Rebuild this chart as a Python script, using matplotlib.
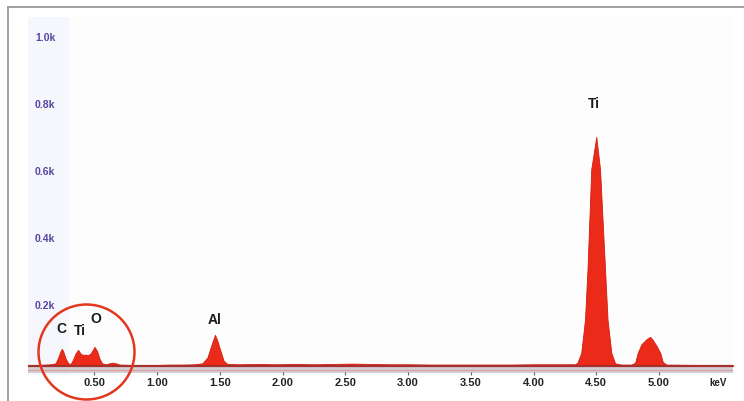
import matplotlib.pyplot as plt
from matplotlib.patches import Ellipse
from matplotlib.lines import Line2D

# EDS spectrum (keV, counts)
energy = [0.00, 0.05, 0.10, 0.15, 0.19, 0.21, 0.23, 0.24, 0.25, 0.27, 0.29,
          0.31, 0.33, 0.35, 0.37, 0.39, 0.41, 0.43, 0.45, 0.47, 0.49, 0.50,
          0.52, 0.54, 0.56, 0.59, 0.62, 0.64, 0.67, 0.70, 0.80, 0.90, 1.00,
          1.10, 1.20, 1.30, 1.36, 1.40, 1.43, 1.46, 1.48, 1.50, 1.53, 1.56,
          1.65, 1.80, 1.95, 2.10, 2.25, 2.40, 2.55, 2.70, 2.85, 3.00, 3.20,
          3.40, 3.60, 3.80, 4.00, 4.20, 4.33, 4.35, 4.38, 4.41, 4.43, 4.445,
          4.46, 4.50, 4.53, 4.55, 4.57, 4.59, 4.62, 4.65, 4.70, 4.78, 4.81,
          4.83, 4.86, 4.90, 4.93, 4.95, 4.98, 5.01, 5.03, 5.06, 5.30, 5.59]
counts = [0, 3, 4, 5, 8, 25, 45, 51, 44, 22, 8,
          6, 20, 38, 48, 36, 33, 34, 32, 38, 50, 57,
          45, 22, 8, 5, 8, 10, 8, 4, 3, 3, 3,
          4, 4, 5, 8, 25, 60, 93, 75, 50, 15, 6,
          5, 6, 5, 6, 5, 6, 7, 6, 5, 5, 4,
          4, 4, 4, 5, 5, 5, 10, 39, 138, 288, 438,
          588, 684, 588, 438, 288, 138, 39, 8, 4, 4, 10,
          39, 65, 80, 87, 78, 60, 39, 12, 4, 3, 3]

peak_labels = ['C', 'Ti', 'O', 'Al', 'Ti']
peak_x = [0.24, 0.38, 0.51, 1.46, 4.48]
peak_y = [90, 84, 118, 115, 760]

y_ticks = [200, 400, 600, 800, 1000]
y_labels = ['0.2k', '0.4k', '0.6k', '0.8k', '1.0k']
x_ticks = [0.5, 1.0, 1.5, 2.0, 2.5, 3.0, 3.5, 4.0, 4.5, 5.0]
x_labels = ['0.50', '1.00', '1.50', '2.00', '2.50', '3.00', '3.50', '4.00', '4.50', '5.00']

W, H = 744, 401
fig = plt.figure(figsize=(W / 100, H / 100), dpi=100)
fig.patch.set_facecolor('white')
plt.rcParams['font.family'] = ['Liberation Sans', 'DejaVu Sans']

# axes placed in pixels
left, right, top, bottom = 28, 733, 17, 375
ax = fig.add_axes([left / W, 1 - bottom / H, (right - left) / W, (bottom - top) / H])
ax.set_facecolor('#fdfdfd')
ax.set_xlim(-0.03, 5.59)
ax.set_ylim(-27, 1042)
for s in ax.spines.values():
    s.set_visible(False)

ax.axvspan(-0.03, 0.30, color='#f5f7fc', zorder=0, lw=0)
ax.axhspan(-21, 0, color='#cfcfd4', zorder=1, lw=0)
ax.axhline(-12, color='#e49a9a', lw=0.8, zorder=2)

ax.fill_between(energy, counts, 0, color='#ec2a1a', lw=0.6, edgecolor='#d01e12', zorder=3)
ax.axhline(0, color='#a8302c', lw=1.6, zorder=4)

for lab, x, y in zip(peak_labels, peak_x, peak_y):
    ax.text(x, y, lab, ha='center', va='bottom', fontsize=10, fontweight='bold', color='#1a1a1a')

for v, lab in zip(y_ticks, y_labels):
    ax.text(0.01, v - 6, lab, transform=ax.get_yaxis_transform(), ha='left', va='top',
            fontsize=7.5, fontweight='bold', color='#5546a0')

ax.set_yticks([])
ax.set_xticks(x_ticks)
ax.set_xticklabels(x_labels)
ax.tick_params(axis='x', direction='in', length=2, color='#666666', labelsize=8,
               labelcolor='#222222', pad=2.5)
for t in ax.get_xticklabels():
    t.set_fontweight('bold')
ax.text(5.47, -37, 'keV', ha='center', va='top', fontsize=7, fontweight='bold',
        color='#222222', clip_on=False)

# outer frame (top and left only visible)
fig.add_artist(Line2D([8 / W, 1], [1 - 7 / H, 1 - 7 / H], transform=fig.transFigure,
                      color='#9a9a9a', lw=1.3))
fig.add_artist(Line2D([8 / W, 8 / W], [0, 1 - 7 / H], transform=fig.transFigure,
                      color='#9a9a9a', lw=1.3))

# red circle around the low-energy peaks
fig.add_artist(Ellipse((86.5 / W, 1 - 352 / H), 96 / W, 95 / H, transform=fig.transFigure,
                       fill=False, edgecolor='#e2381f', lw=1.8))

fig.savefig('out.png', dpi=100)
